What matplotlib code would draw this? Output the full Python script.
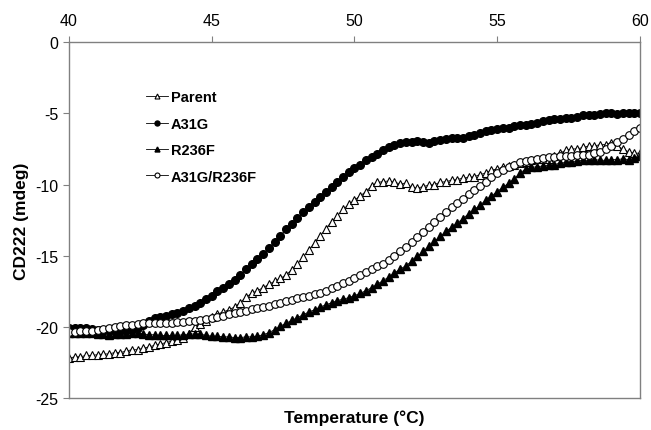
import numpy as np
import matplotlib
matplotlib.use("Agg")
import matplotlib.pyplot as plt

plt.rcParams['font.family'] = ['Liberation Sans', 'DejaVu Sans']
plt.rcParams['axes.unicode_minus'] = False

# temperature grid (0.2 C steps) and CD signal at 222 nm
parent = [-22.2, -22.1, -22.1, -22.0, -22.0, -21.95, -21.9, -21.9, -21.8, -21.8,
          -21.7, -21.6, -21.6, -21.5, -21.4, -21.3, -21.2, -21.1, -21.0, -20.9,
          -20.8, -20.5, -20.0, -19.8, -19.6, -19.3, -19.1, -18.95, -18.8, -18.6,
          -18.3, -17.9, -17.65, -17.45, -17.25, -17.0, -16.8, -16.6, -16.35, -16.0,
          -15.6, -15.1, -14.6, -14.1, -13.6, -13.1, -12.6, -12.2, -11.75, -11.4,
          -11.1, -10.8, -10.5, -10.1, -9.85, -9.8, -9.75, -9.85, -9.95, -9.9,
          -10.2, -10.25, -10.15, -10.05, -10.0, -9.85, -9.8, -9.7, -9.65, -9.55,
          -9.5, -9.45, -9.3, -9.2, -9.0, -8.9, -8.8, -8.7, -8.6, -8.5,
          -8.4, -8.3, -8.2, -8.2, -8.2, -8.0, -7.8, -7.6, -7.5, -7.5,
          -7.4, -7.3, -7.3, -7.2, -7.2, -7.1, -7.3, -7.5, -7.7, -7.8,
          -7.8]

a31g = [-20.1, -20.1, -20.05, -20.1, -20.15, -20.2, -20.2, -20.25, -20.3, -20.3,
        -20.25, -20.2, -20.1, -19.9, -19.6, -19.4, -19.3, -19.2, -19.1, -19.0,
        -18.85, -18.7, -18.5, -18.3, -18.05, -17.8, -17.5, -17.25, -17.0, -16.7,
        -16.35, -15.95, -15.6, -15.25, -14.85, -14.45, -14.05, -13.6, -13.15, -12.75,
        -12.35, -11.95, -11.55, -11.2, -10.85, -10.5, -10.15, -9.8, -9.45, -9.15,
        -8.85, -8.6, -8.3, -8.05, -7.85, -7.6, -7.4, -7.25, -7.1, -7.0,
        -7.0, -6.95, -7.0, -7.1, -6.95, -6.85, -6.8, -6.75, -6.7, -6.7,
        -6.6, -6.55, -6.4, -6.25, -6.15, -6.1, -6.05, -6.0, -5.9, -5.85,
        -5.8, -5.75, -5.7, -5.55, -5.45, -5.4, -5.4, -5.3, -5.3, -5.25,
        -5.15, -5.1, -5.1, -5.05, -5.0, -5.0, -5.05, -5.0, -5.0, -5.0,
        -5.0]

r236f = [-20.4, -20.45, -20.4, -20.4, -20.45, -20.5, -20.5, -20.55, -20.5, -20.5,
         -20.5, -20.45, -20.4, -20.5, -20.55, -20.55, -20.6, -20.6, -20.6, -20.6,
         -20.55, -20.5, -20.5, -20.5, -20.6, -20.65, -20.65, -20.7, -20.7, -20.75,
         -20.75, -20.7, -20.7, -20.65, -20.55, -20.4, -20.2, -19.95, -19.75, -19.55,
         -19.35, -19.15, -18.95, -18.8, -18.6, -18.45, -18.3, -18.15, -18.05, -17.95,
         -17.8, -17.65, -17.45, -17.25, -17.0, -16.75, -16.5, -16.2, -15.95, -15.7,
         -15.4, -15.05, -14.7, -14.35, -14.0, -13.65, -13.3, -13.0, -12.7, -12.4,
         -12.05, -11.75, -11.45, -11.1, -10.8, -10.5, -10.2, -9.9, -9.6, -9.2,
         -8.9, -8.8, -8.75, -8.7, -8.65, -8.6, -8.5, -8.45, -8.4, -8.35,
         -8.3, -8.3, -8.25, -8.3, -8.3, -8.25, -8.25, -8.2, -8.25, -8.15,
         -8.0]

a31g_r236f = [-20.35, -20.35, -20.3, -20.3, -20.3, -20.2, -20.15, -20.1, -20.0, -19.95,
              -19.9, -19.85, -19.8, -19.75, -19.7, -19.7, -19.7, -19.7, -19.7, -19.65,
              -19.65, -19.6, -19.6, -19.55, -19.45, -19.4, -19.3, -19.2, -19.1, -19.0,
              -18.95, -18.85, -18.75, -18.7, -18.6, -18.5, -18.4, -18.3, -18.2, -18.1,
              -18.0, -17.9, -17.8, -17.7, -17.6, -17.45, -17.3, -17.15, -16.95, -16.75,
              -16.55, -16.35, -16.15, -15.95, -15.75, -15.55, -15.3, -15.0, -14.7, -14.4,
              -14.05, -13.7, -13.35, -13.0, -12.6, -12.25, -11.95, -11.6, -11.3, -11.0,
              -10.7, -10.4, -10.1, -9.8, -9.5, -9.2, -9.0, -8.8, -8.6, -8.45,
              -8.35, -8.25, -8.2, -8.15, -8.1, -8.05, -8.0, -8.0, -8.0, -7.95,
              -7.95, -7.9, -7.8, -7.7, -7.5, -7.3, -7.05, -6.8, -6.5, -6.25,
              -6.0]

temperature = np.linspace(40, 60, len(parent))

fig = plt.figure(figsize=(6.51, 4.31), dpi=100)
ax = fig.add_axes([0.106, 0.074, 0.877, 0.826])

ms = 5.5
ax.plot(temperature, parent, color='black', lw=0.6, marker='^', ms=ms,
        mfc='white', mec='black', mew=0.8, label='Parent')
ax.plot(temperature, a31g, color='black', lw=0.6, marker='o', ms=ms,
        mfc='black', mec='black', label='A31G')
ax.plot(temperature, r236f, color='black', lw=0.6, marker='^', ms=ms,
        mfc='black', mec='black', label='R236F')
ax.plot(temperature, a31g_r236f, color='black', lw=0.6, marker='o', ms=ms,
        mfc='white', mec='black', mew=0.8, label='A31G/R236F')

ax.set_xlim(40, 60)
ax.set_ylim(-25, 0)
ax.set_xticks([40, 45, 50, 55, 60])
ax.set_yticks([0, -5, -10, -15, -20, -25])
ax.xaxis.tick_top()
ax.tick_params(axis='both', labelsize=11.5, color='#808080', length=4, width=0.8)
ax.tick_params(axis='x', pad=6)
for s in ax.spines.values():
    s.set_color('#808080')
    s.set_linewidth(1.0)

ax.set_xlabel('Temperature (°C)', fontsize=12.5, fontweight='bold', labelpad=8)
ax.xaxis.set_label_position('bottom')
ax.set_ylabel('CD222 (mdeg)', fontsize=12.5, fontweight='bold', labelpad=5)

ax.legend(loc='upper left', bbox_to_anchor=(0.122, 0.885), frameon=False,
          prop={'weight': 'bold', 'size': 10.5}, labelspacing=0.85,
          handlelength=1.5, handletextpad=0.2, markerscale=0.65, borderpad=0)

fig.savefig('out.png', dpi=100)
